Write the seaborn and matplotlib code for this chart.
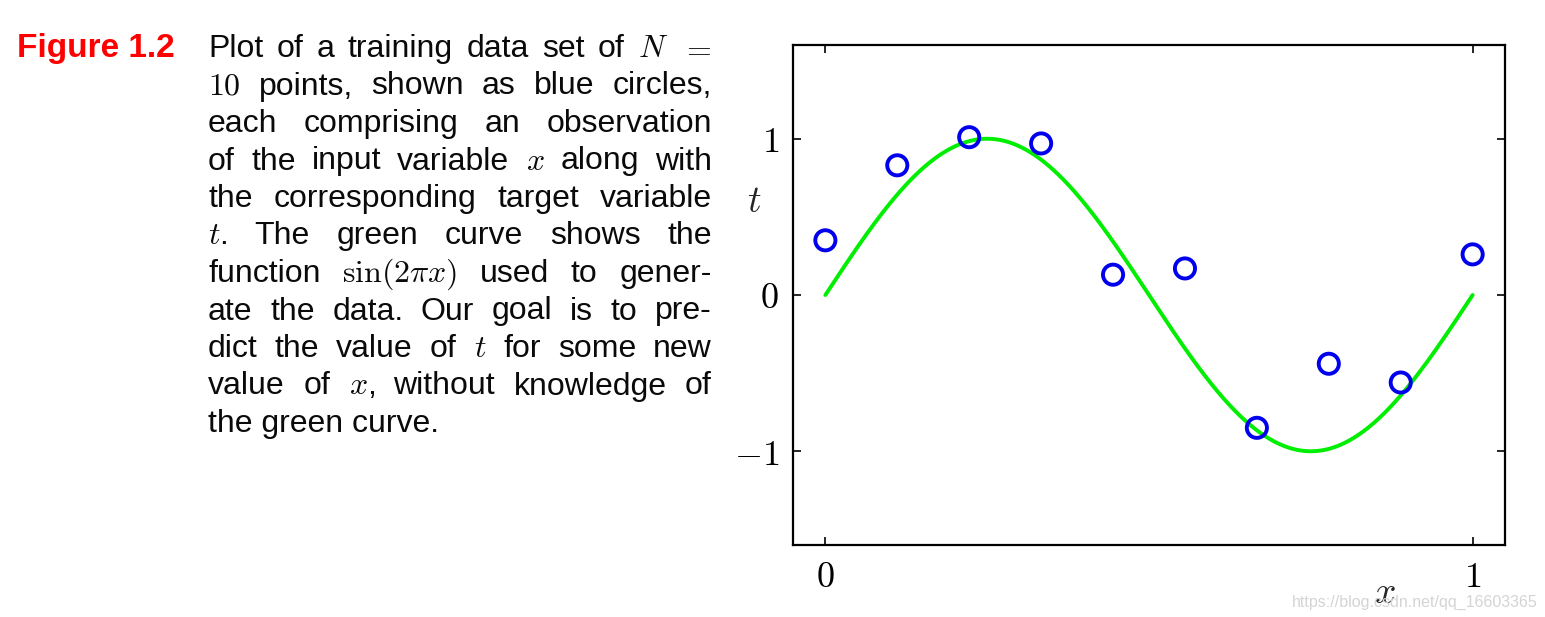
import numpy as np
import pandas as pd
import matplotlib
matplotlib.use("Agg")
import matplotlib.pyplot as plt
import seaborn as sns

# ---- data ----
x_points = [0.0, 1/9, 2/9, 3/9, 4/9, 5/9, 6/9, 7/9, 8/9, 1.0]
t_points = [0.35, 0.83, 1.01, 0.97, 0.13, 0.17, -0.85, -0.44, -0.56, 0.26]
x_ticks = [0, 1]
y_ticks = [-1, 0, 1]

curve_x = np.linspace(0, 1, 400)
curve_t = np.sin(2 * np.pi * curve_x)  # the function sin(2*pi*x) shown in the figure

caption_lines = [
    ["Plot", "of", "a", "training", "data", "set", "of", "$N$", "$=$"],
    ["$10$", "points,", "shown", "as", "blue", "circles,"],
    ["each", "comprising", "an", "observation"],
    ["of", "the", "input", "variable", "$x$", "along", "with"],
    ["the", "corresponding", "target", "variable"],
    ["$t$.", "The", "green", "curve", "shows", "the"],
    ["function", r"$\sin(2\pi x)$", "used", "to", "gener-"],
    ["ate", "the", "data.", "Our", "goal", "is", "to", "pre-"],
    ["dict", "the", "value", "of", "$t$", "for", "some", "new"],
    ["value", "of", "$x$,", "without", "knowledge", "of"],
]
last_line = "the green curve."

# ---- style ----
sns.set_style("ticks")
plt.rcParams["font.family"] = ["Liberation Sans", "DejaVu Sans"]
plt.rcParams["mathtext.fontset"] = "cm"
plt.rcParams["axes.linewidth"] = 1.6

W, H = 1545, 617
fig = plt.figure(figsize=(W / 100, H / 100), dpi=100)

def fx(px):
    return px / W

def fy(py):
    return 1 - py / H

ax = fig.add_axes([fx(793), fy(545), fx(1505) - fx(793), fy(45) - fy(545)])

df_curve = pd.DataFrame({"x": curve_x, "t": curve_t})
df_pts = pd.DataFrame({"x": x_points, "t": t_points})

sns.lineplot(data=df_curve, x="x", y="t", ax=ax, color="#00ee00", linewidth=2.8, sort=False)
sns.scatterplot(data=df_pts, x="x", y="t", ax=ax, s=210, facecolor="none",
                edgecolor="#0000ee", linewidth=2.8, zorder=5)

ax.set_xlim(-0.05, 1.05)
ax.set_ylim(-1.6, 1.6)
ax.set_xticks(x_ticks)
ax.set_yticks(y_ticks)
ax.set_xticklabels([f"${v}$" for v in x_ticks])
ax.set_yticklabels([f"${v}$" for v in y_ticks])
ax.tick_params(direction="in", length=6, width=1.4, top=True, right=True,
               labelsize=26, labelcolor="black")
ax.tick_params(axis="x", pad=11)
ax.tick_params(axis="y", pad=10)
for s in ax.spines.values():
    s.set_visible(True)
    s.set_linewidth(1.6)
    s.set_color("black")

ax.set_xlabel("$x$", fontsize=27)
ax.xaxis.set_label_coords(0.831, -0.06)
ax.set_ylabel("$t$", fontsize=27, rotation=0, ha="center", va="center")
ax.yaxis.set_label_coords(-0.055, 0.685)

# ---- caption ----
fig.text(fx(17), fy(57), "Figure 1.2", color="#ff0000", fontweight="bold",
         fontsize=24, va="baseline", ha="left")

FS = 23
left_px, right_px = 208, 712
base0, step = 57, 37.5
renderer = fig.canvas.get_renderer()
for i, words in enumerate(caption_lines):
    yb = fy(base0 + i * step)
    texts = [fig.text(0, yb, w, fontsize=FS, va="baseline", ha="left", color="#0a0a0a")
             for w in words]
    widths = [t.get_window_extent(renderer).width for t in texts]
    gap = (right_px - left_px - sum(widths)) / (len(words) - 1)
    xpos = left_px
    for t, w in zip(texts, widths):
        t.set_x(fx(xpos))
        xpos += w + gap

fig.text(fx(left_px), fy(base0 + 10 * step), last_line, fontsize=FS,
         va="baseline", ha="left", color="#0a0a0a")

# watermark
fig.text(fx(1292), fy(607), "https://blog.csdn.net/qq_16603365", fontsize=11.5,
         color="#d4d4d4", va="baseline", ha="left")

fig.savefig("out.png", dpi=100)
